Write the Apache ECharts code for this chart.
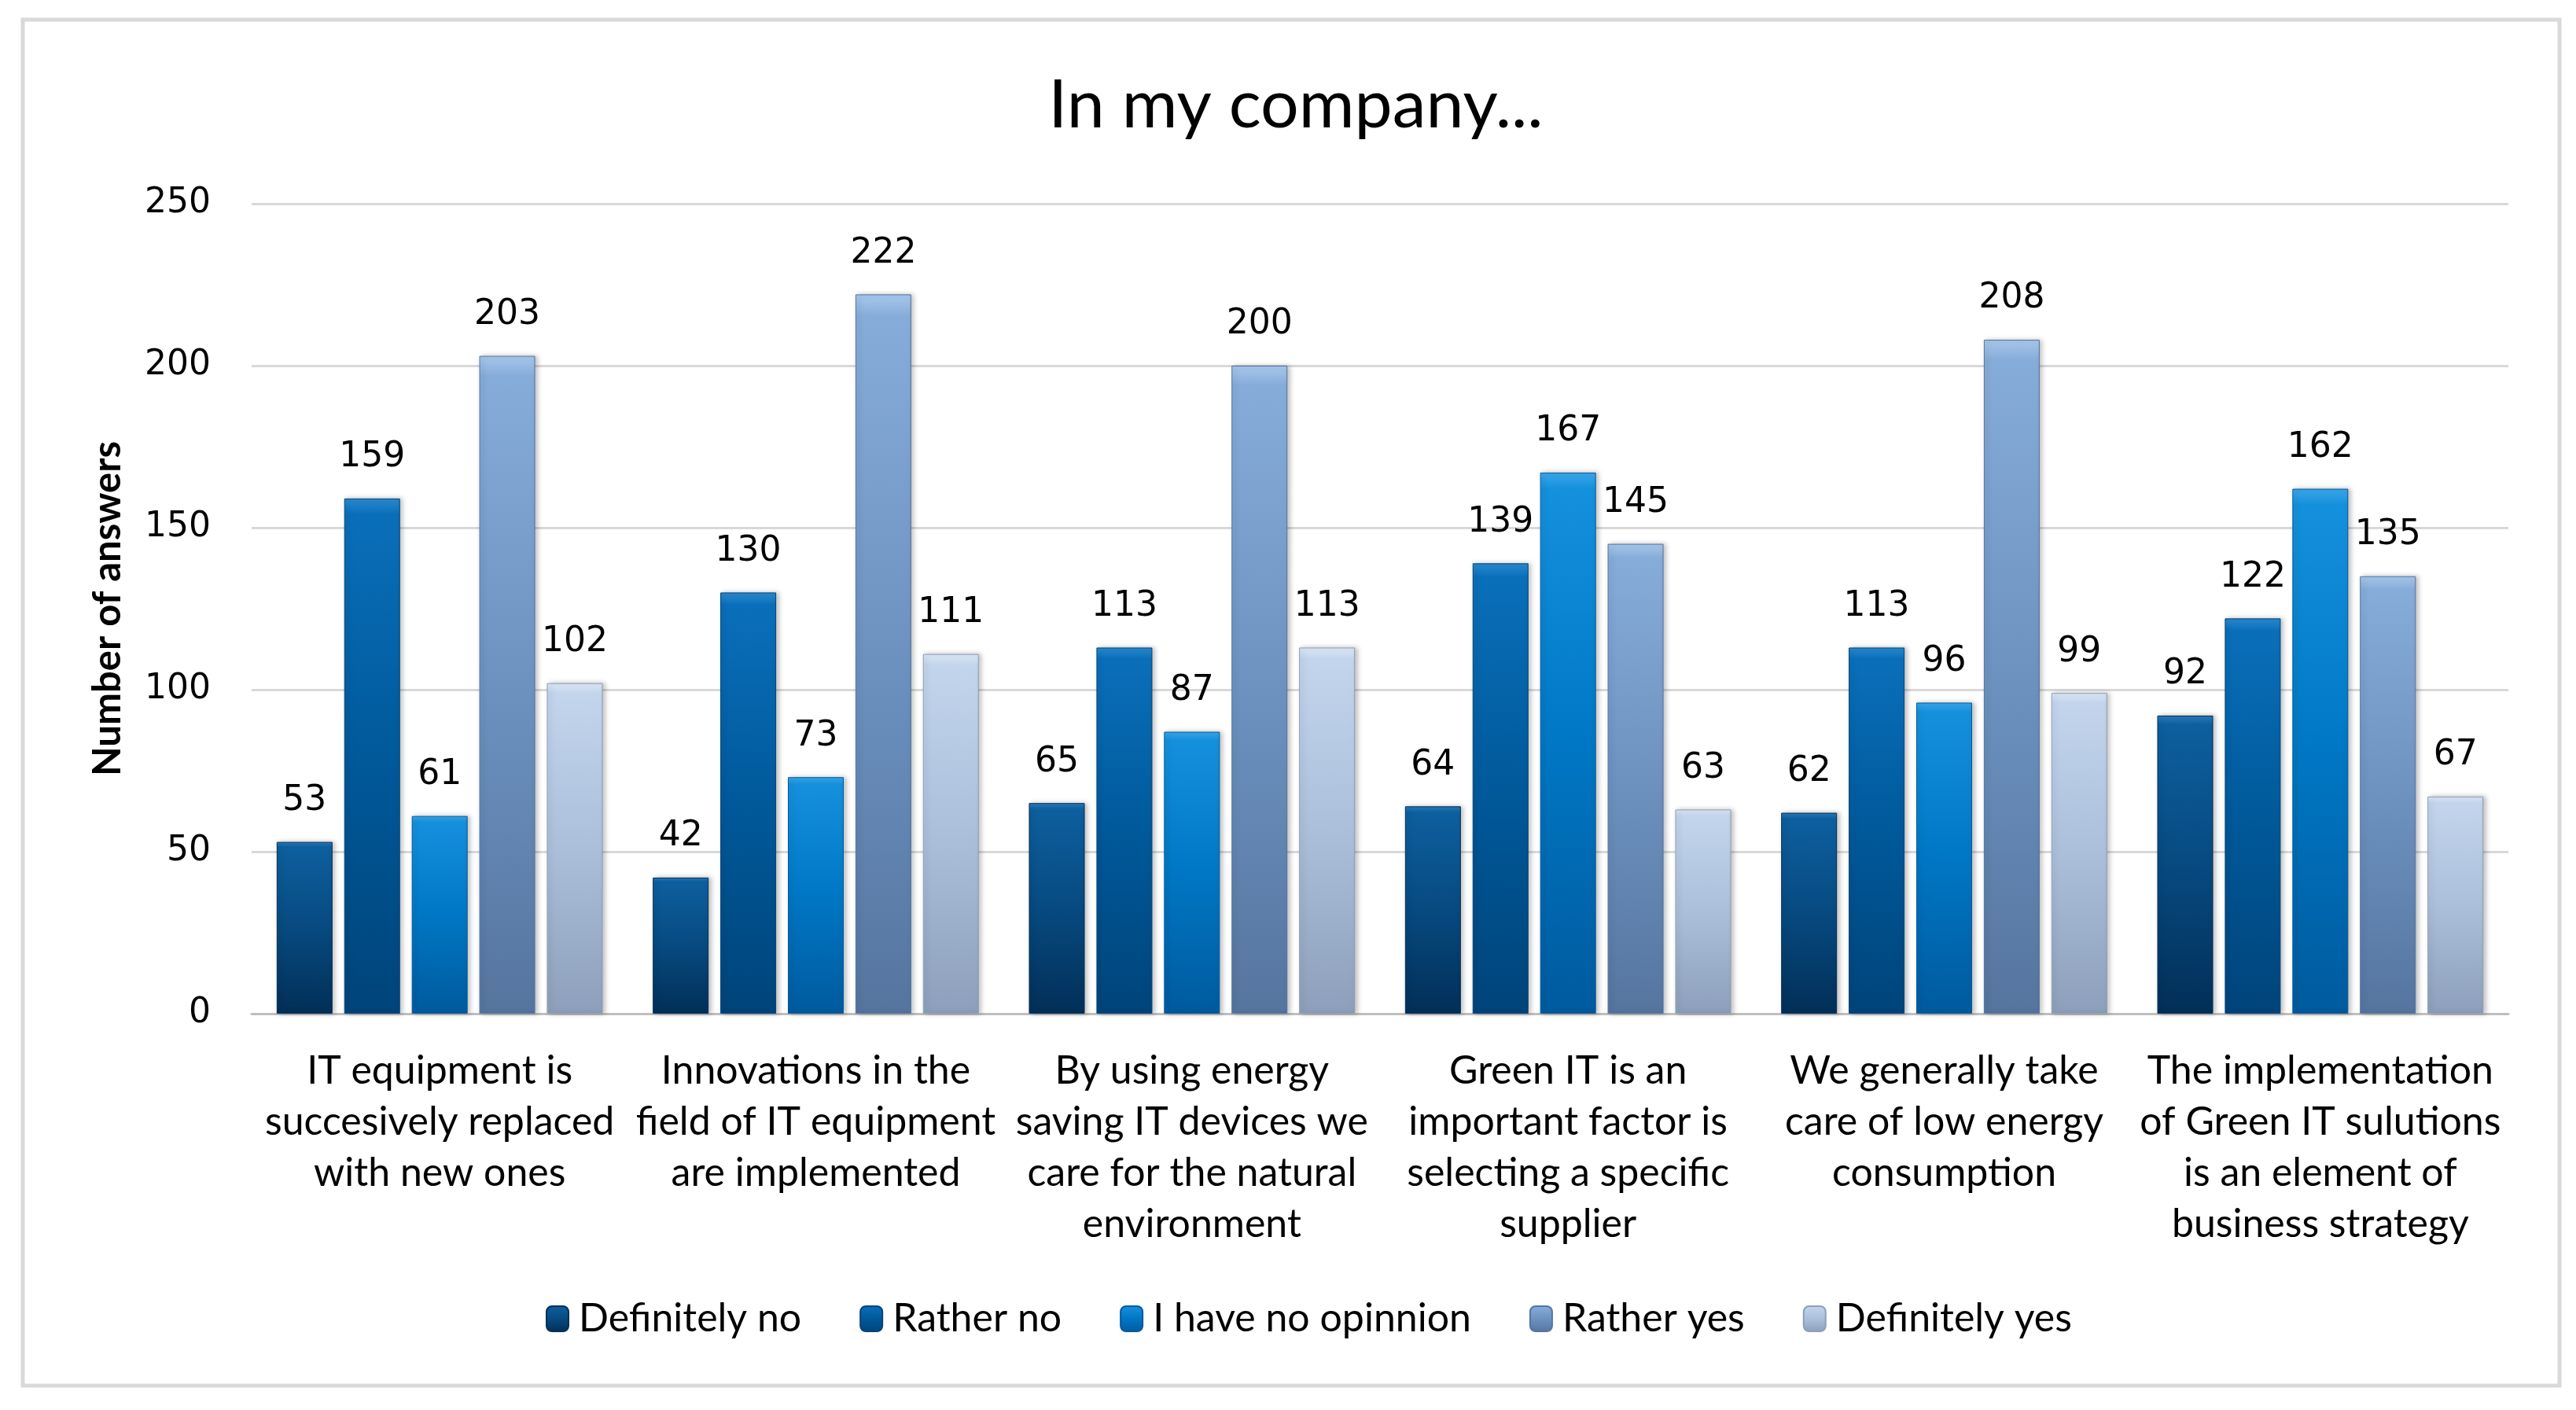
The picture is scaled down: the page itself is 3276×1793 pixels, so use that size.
<!DOCTYPE html>
<html>
<head>
<meta charset="utf-8">
<script src="https://cdn.jsdelivr.net/npm/echarts@6/dist/echarts.min.js"></script>
<style>
html,body{margin:0;padding:0;background:#fff;}
#chart{width:3276px;height:1793px;}
</style>
</head>
<body>
<div id="chart"></div>
<script>
const categories = [
  "IT equipment is\nsuccesively replaced\nwith new ones",
  "Innovations in the\nfield of IT equipment\nare implemented",
  "By using energy\nsaving IT devices we\ncare for the natural\nenvironment",
  "Green IT is an\nimportant factor is\nselecting a specific\nsupplier",
  "We generally take\ncare of low energy\nconsumption",
  "The implementation\nof Green IT sulutions\nis an element of\nbusiness strategy"
];
const seriesNames = ["Definitely no", "Rather no", "I have no opinnion", "Rather yes", "Definitely yes"];
const definitelyNo = [53, 42, 65, 64, 62, 92];
const ratherNo = [159, 130, 113, 139, 113, 122];
const noOpinion = [61, 73, 87, 167, 96, 162];
const ratherYes = [203, 222, 200, 145, 208, 135];
const definitelyYes = [102, 111, 113, 63, 99, 67];
const yTicks = [0, 50, 100, 150, 200, 250];

const values = [definitelyNo, ratherNo, noOpinion, ratherYes, definitelyYes];
const colorStops = [
  ["#2a7cbc", "#0d5f9e", "#074a80", "#022f57"],
  ["#2a8ad0", "#0a6fba", "#00599a", "#00447a"],
  ["#3aa8ea", "#1590dc", "#0077c4", "#005a9e"],
  ["#a8c8ec", "#86acd9", "#6d92c0", "#55759f"],
  ["#dde9f7", "#c3d5ec", "#abbfdb", "#8d9fba"]
];
function grad(c){
  return new echarts.graphic.LinearGradient(0,0,0,1,[
    {offset:0,color:c[0]},{offset:0.03,color:c[1]},{offset:0.5,color:c[2]},{offset:1,color:c[3]}
  ]);
}

const chart = echarts.init(document.getElementById('chart'));
const option = {
  backgroundColor: '#ffffff',
  animation: false,
  title: {
    text: 'In my company...',
    left: 1643, top: 86, textAlign: 'center',
    textStyle: {fontFamily: 'Lato', fontSize: 86, fontWeight: 'normal', color: '#000'}
  },
  graphic: [{
    type: 'rect', shape: {x: 29, y: 25, width: 3226, height: 1737},
    style: {fill: 'none', stroke: '#d9d9d9', lineWidth: 5}, silent: true, z: -1
  }],
  legend: {
    data: seriesNames,
    bottom: 86, left: 689,
    itemWidth: 28, itemHeight: 32, itemGap: 74,
    textStyle: {fontFamily: 'Lato', fontSize: 50, color: '#000', padding: [0,0,0,8]}
  },
  grid: {left: 320, right: 86, top: 259, bottom: 504},
  xAxis: {
    type: 'category',
    data: categories,
    axisTick: {show: false},
    axisLine: {lineStyle: {color: '#bfbfbf', width: 3}},
    axisLabel: {
      interval: 0, margin: 40,
      fontFamily: 'Lato', fontSize: 50, lineHeight: 65, color: '#000'
    }
  },
  yAxis: {
    type: 'value', min: 0, max: 250, interval: 50,
    name: 'Number of answers', nameLocation: 'middle', nameGap: 158,
    nameTextStyle: {fontFamily: 'Lato', fontSize: 49, fontWeight: 'bold', color: '#000'},
    axisLine: {show: false}, axisTick: {show: false},
    axisLabel: {fontFamily: 'DejaVu Sans', fontSize: 44, color: '#000', margin: 52},
    splitLine: {lineStyle: {color: '#d9d9d9', width: 3}}
  },
  series: seriesNames.map((n, i) => ({
    name: n, type: 'bar',
    data: values[i],
    barWidth: 71, barGap: '21%',
    itemStyle: {
      color: grad(colorStops[i]),
      borderColor: colorStops[i][3], borderWidth: 1,
      shadowColor: 'rgba(0,0,0,0.25)', shadowBlur: 6, shadowOffsetX: 3, shadowOffsetY: 0
    },
    label: {
      show: true, position: 'top', distance: 30,
      fontFamily: 'DejaVu Sans', fontSize: 44, color: '#000'
    }
  }))
};
chart.setOption(option);
</script>
</body>
</html>
